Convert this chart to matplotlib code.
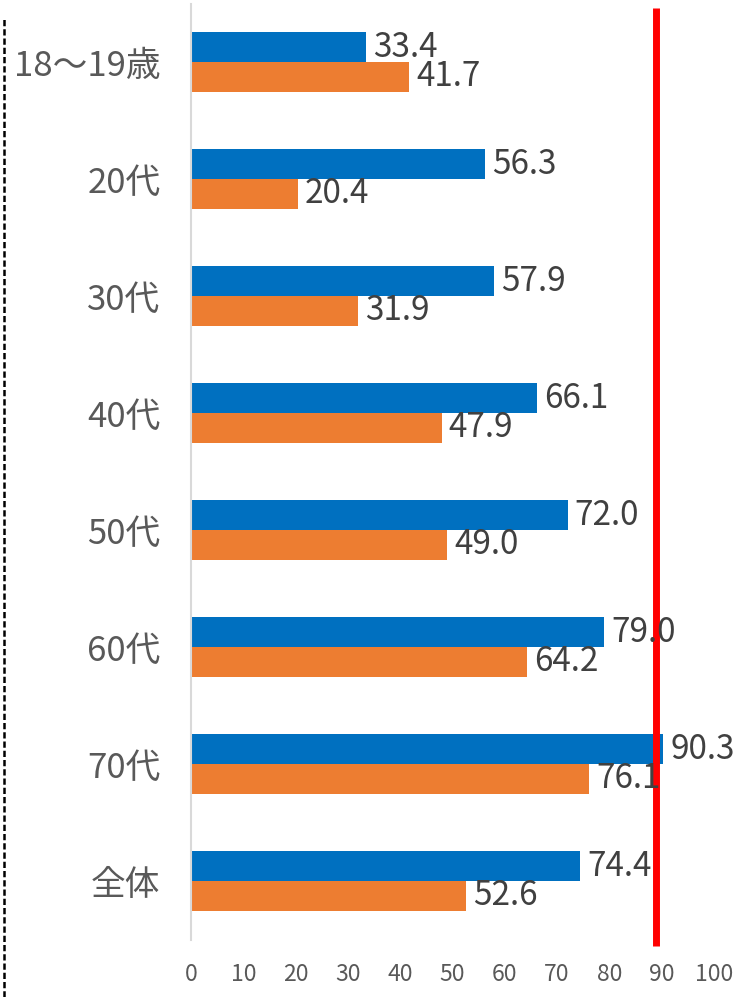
import matplotlib
matplotlib.use("Agg")
import matplotlib.pyplot as plt
from matplotlib.lines import Line2D
import numpy as np

plt.rcParams['font.family'] = ['Noto Sans CJK JP', 'DejaVu Sans']

categories = ["18～19歳", "20代", "30代", "40代", "50代", "60代", "70代", "全体"]
blue_values = [33.4, 56.3, 57.9, 66.1, 72.0, 79.0, 90.3, 74.4]
orange_values = [41.7, 20.4, 31.9, 47.9, 49.0, 64.2, 76.1, 52.6]
reference_value = 88.9
x_ticks = list(range(0, 101, 10))

BLUE = "#0070C0"
ORANGE = "#ED7D31"

fig = plt.figure(figsize=(7.4, 9.97), dpi=100)
ax = fig.add_axes([191/740, (997-939.5)/997, 523/740, 936/997])

y = np.arange(len(categories))
h = 0.256
ax.barh(y - h/2, blue_values, height=h, color=BLUE, zorder=2)
ax.barh(y + h/2, orange_values, height=h, color=ORANGE, zorder=2)

for yi, v in zip(y, blue_values):
    ax.annotate(f"{v:.1f}", (v, yi - h/2), xytext=(5, 0), textcoords="offset points",
                ha="left", va="center", fontsize=24, color="#404040", zorder=4)
for yi, v in zip(y, orange_values):
    ax.annotate(f"{v:.1f}", (v, yi + h/2), xytext=(5, 0), textcoords="offset points",
                ha="left", va="center", fontsize=24, color="#404040", zorder=4)

ax.set_xlim(0, 100)
ax.set_ylim(len(categories) - 0.5, -0.5)
ax.set_xticks(x_ticks)
ax.set_xticklabels([str(t) for t in x_ticks], fontsize=16.5, color="#595959")
ax.set_yticks(y)
ax.set_yticklabels(categories, fontsize=25, color="#595959")
ax.tick_params(axis="x", length=0, pad=17)
ax.tick_params(axis="y", length=0, pad=22)
for s in ["top", "right", "bottom"]:
    ax.spines[s].set_visible(False)
ax.spines["left"].set_color("#D9D9D9")
ax.spines["left"].set_linewidth(1.5)

# red reference line
ax.plot([reference_value, reference_value], [-0.4615, 7.556], color="#FF0000",
        lw=5, solid_capstyle="butt", clip_on=False, zorder=3)

# dashed line at left edge
fig.add_artist(Line2D([4/740, 4/740], [0, 1 - 17/997], transform=fig.transFigure,
                      color="black", lw=1.8, linestyle=(0, (2.5, 1.2))))

fig.savefig("out.png", dpi=100)
